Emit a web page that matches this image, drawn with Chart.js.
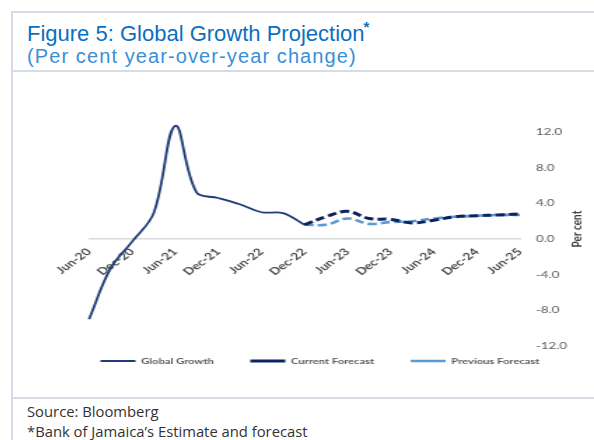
<!DOCTYPE html>
<html>
<head>
<meta charset="utf-8">
<script src="https://cdn.jsdelivr.net/npm/chart.js@4.4.1/dist/chart.umd.min.js"></script>
<style>
  html, body { margin: 0; padding: 0; background: #fff; }
  body { width: 594px; height: 440px; position: relative; overflow: hidden; }
  .frame { position: absolute; left: 11px; top: 11px; width: 600px; height: 440px;
           border-top: 2px solid #d6dce5; border-left: 2px solid #d6dce5; }
  .rule { position: absolute; left: 11px; width: 600px; height: 0; border-top: 2px solid #d6dce5; }
  .title { position: absolute; left: 27px; top: 15px; font-family: "Liberation Sans", Arial, sans-serif;
           font-size: 22px; color: #0b6fc0; white-space: nowrap; line-height: 26px; }
  .title sup { font-size: 15px; font-weight: bold; position: relative; top: -1px; margin-left: -1px; }
  .subtitle { position: absolute; left: 27px; top: 43px; font-family: "Liberation Sans", Arial, sans-serif;
              font-size: 20px; letter-spacing: 1.1px; color: #3a8fd6; white-space: nowrap; line-height: 26px; }
  .source { position: absolute; left: 27px; top: 401px; font-family: "Open Sans", sans-serif;
            font-size: 14.8px; line-height: 20px; color: #333; white-space: nowrap; }
  #growthChart { position: absolute; left: 13px; top: 71px; transform: scaleX(1.4); transform-origin: 0 0; }
</style>
</head>
<body>
<div class="frame"></div>
<div class="rule" style="top:70px"></div>
<div class="rule" style="top:397px"></div>
<div class="title">Figure 5: Global Growth Projection<sup>*</sup></div>
<div class="subtitle">(Per cent year-over-year change)</div>
<canvas id="growthChart" width="412" height="326"></canvas>
<div class="source">Source: Bloomberg<br>*Bank of Jamaica’s Estimate and forecast</div>

<script>
const quarters = [
  "Jun-20", "Sep-20", "Dec-20", "Mar-21", "Jun-21", "Sep-21", "Dec-21",
  "Mar-22", "Jun-22", "Sep-22", "Dec-22", "Mar-23", "Jun-23", "Sep-23",
  "Dec-23", "Mar-24", "Jun-24", "Sep-24", "Dec-24", "Mar-25", "Jun-25",
];
const globalGrowth = [
  -9.0, -3.3, -0.3, 2.9, 12.7, 5.2, 4.6, 3.9, 3.0, 2.9, 1.6,
  null, null, null, null, null, null, null, null, null, null,
];
const currentForecast = [
  null, null, null, null, null, null, null, null, null, null,
  1.6, 2.5, 3.1, 2.3, 2.2, 1.8, 2.1, 2.5, 2.6, 2.7, 2.8,
];
const previousForecast = [
  null, null, null, null, null, null, null, null, null, null,
  1.6, 1.6, 2.3, 1.7, 1.9, 2.0, 2.3, 2.5, 2.6, 2.7, 2.7,
];
const percentTicks = [-12, -8, -4, 0, 4, 8, 12];

// rotated axis title, reads bottom to top on the right-hand side
const perCentTitle = {
  id: "perCentTitle",
  afterDraw(chart) {
    const { ctx, chartArea } = chart;
    ctx.save();
    ctx.translate(chartArea.right + 41, (chartArea.top + chartArea.bottom) / 2 - 10);
    ctx.rotate(-Math.PI / 2);
    ctx.font = "bold 10px Lato";
    ctx.fillStyle = "#404040";
    ctx.textAlign = "center";
    ctx.textBaseline = "middle";
    ctx.fillText("Per cent", 0, 0);
    ctx.restore();
  },
};

// keep the wide item spacing but sit the legend row closer to the plot
const legendLift = {
  id: "legendLift",
  afterLayout(chart) {
    chart.legend.top -= 15;
    chart.legend.bottom -= 15;
  },
};

const ctx = document.getElementById("growthChart");

new Chart(ctx, {
  type: "line",
  data: {
    labels: quarters,
    datasets: [
      {
        label: "Global Growth",
        data: globalGrowth,
        borderColor: "#1f3a78",
        borderWidth: 1.8,
        tension: 0.38,
        pointRadius: 0,
        clip: false,
      },
      {
        label: "Current Forecast",
        data: currentForecast,
        borderColor: "#0d2260",
        borderWidth: 3,
        borderDash: [6.5, 3],
        tension: 0.38,
        pointRadius: 0,
        clip: false,
      },
      {
        label: "Previous Forecast",
        data: previousForecast,
        borderColor: "#5b9bd5",
        borderWidth: 2.6,
        borderDash: [6.5, 3],
        tension: 0.38,
        pointRadius: 0,
        clip: false,
      },
    ],
  },
  options: {
    responsive: false,
    animation: false,
    layout: {
      padding: { left: 30.6, right: 4, top: 61, bottom: 7 },
    },
    scales: {
      x: {
        position: { y: 0 },
        offset: false,
        grid: { display: false, drawTicks: false },
        border: { color: "#d9d9d9", width: 1.5 },
        ticks: {
          autoSkip: false,
          minRotation: 45,
          maxRotation: 45,
          padding: 7,
          color: "#4a4a4a",
          font: { family: "Lato", size: 10, weight: "bold" },
          callback: function (value, index) {
            return index % 2 === 0 ? quarters[index] : "";
          },
        },
      },
      y: {
        position: "right",
        min: -12,
        max: 12,
        grid: { display: false, drawTicks: false },
        border: { display: false },
        afterBuildTicks: function (scale) {
          scale.ticks = percentTicks.map((v) => ({ value: v }));
        },
        afterFit: function (scale) {
          scale.width = 46;
        },
        ticks: {
          padding: 11.5,
          color: "#595959",
          font: { family: "Lato", size: 9.5 },
          callback: function (value) {
            return value.toFixed(1);
          },
        },
      },
      gutter: {
        position: "left",
        grid: { display: false },
        border: { display: false },
        ticks: { display: false },
        afterFit: function (scale) {
          scale.width = 23.7;
        },
      },
    },
    plugins: {
      legend: {
        position: "bottom",
        labels: {
          usePointStyle: true,
          pointStyle: "line",
          pointStyleWidth: 25,
          boxWidth: 25,
          padding: 26,
          color: "#595959",
          font: { family: "Lato", size: 8, weight: "bold" },
        },
      },
      tooltip: { enabled: false },
    },
  },
  plugins: [perCentTitle, legendLift],
});
</script>
</body>
</html>
